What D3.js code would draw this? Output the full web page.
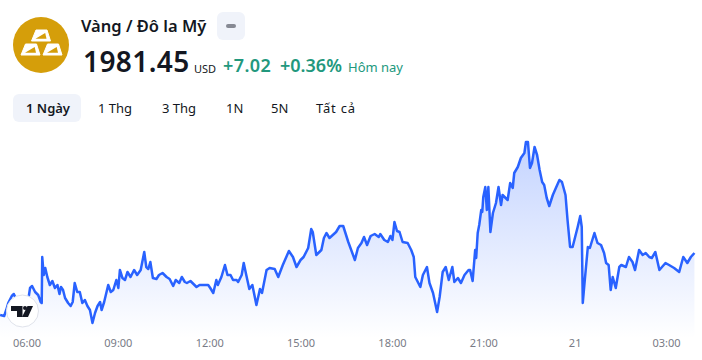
<!DOCTYPE html>
<html><head><meta charset="utf-8">
<script src="https://cdn.jsdelivr.net/npm/d3@7"></script>
<style>html,body{margin:0;padding:0;background:#fff;overflow:hidden}svg{display:block}text{font-family:"Noto Sans","Open Sans",sans-serif}</style>
</head><body><svg id="c" width="702" height="360"></svg>
<script>
const title="Vàng / Đô la Mỹ", lastPrice="1981.45", currency="USD", changeAbs="+7.02", changePct="+0.36%", changeLabel="Hôm nay";
const tabs=["1 Ngày","1 Thg","3 Thg","1N","5N","Tất cả"];
const tickMinutes=[0,180,360,540,720,900,1080,1260];
const tickLabels=["06:00","09:00","12:00","15:00","18:00","21:00","21","03:00"];
// minutes since 06:00
const minutes=[-52,-44,-40,-36,-29,-25,-13,-3,4,7,11,17,23,28,30,31,34,37,41,46,51,56,61,65,68,72,76,82,87,91,95,100,105,110,115,120,125,130,135,140,145,148,153,161,166,171,177,181,184,189,194,199,205,212,218,225,232,236,240,244,249,256,261,268,276,282,289,294,301,306,312,316,323,331,335,341,348,358,362,368,374,377,384,391,396,402,407,414,417,424,428,433,439,445,453,460,464,473,479,489,496,505,517,525,532,540,546,555,561,564,571,581,586,591,597,610,617,624,634,647,653,660,665,671,678,686,694,697,705,712,717,721,725,730,735,741,751,758,763,766,776,781,789,794,801,809,814,820,826,832,839,843,850,856,863,871,874,879,884,886,889,892,896,898,900,904,907,910,914,919,925,930,935,938,948,953,958,961,968,974,981,984,988,992,996,1001,1006,1011,1016,1020,1025,1030,1037,1043,1050,1055,1062,1066,1071,1076,1081,1086,1091,1094,1096,1100,1106,1110,1119,1125,1132,1138,1142,1147,1151,1155,1161,1168,1172,1181,1187,1194,1199,1207,1214,1220,1227,1232,1239,1247,1259,1266,1276,1286,1294,1302,1309,1316];
const prices=[1975.3,1975.2,1975.8,1976.5,1977.2,1977.4,1976.1,1975.8,1977.0,1978.0,1978.2,1977.6,1977.3,1976.6,1976.5,1981.1,1979.3,1980.0,1979.1,1978.3,1978.7,1978.0,1978.3,1977.4,1978.1,1977.8,1977.0,1976.5,1976.2,1976.6,1978.5,1977.6,1977.6,1976.5,1976.8,1976.2,1975.8,1974.5,1975.5,1976.2,1976.6,1975.8,1976.6,1978.3,1977.6,1977.8,1978.8,1978.0,1979.8,1979.0,1978.8,1979.6,1979.1,1979.8,1979.3,1979.8,1981.6,1980.1,1979.9,1980.6,1979.0,1978.9,1979.3,1979.5,1979.1,1978.9,1978.2,1978.8,1978.5,1979.1,1978.6,1978.5,1978.7,1978.3,1978.1,1978.3,1978.3,1978.3,1978.0,1977.5,1978.8,1978.3,1979.1,1980.3,1979.3,1979.3,1978.8,1978.8,1978.6,1979.3,1980.5,1979.3,1977.9,1978.3,1976.3,1977.9,1977.5,1979.8,1980.0,1979.9,1979.1,1980.3,1981.7,1981.1,1980.1,1980.8,1981.1,1982.0,1983.9,1983.6,1981.3,1981.8,1983.0,1983.5,1983.0,1983.6,1984.2,1984.2,1982.6,1980.8,1982.0,1982.5,1983.1,1982.3,1983.2,1983.4,1983.1,1983.4,1982.8,1982.6,1983.2,1982.8,1984.6,1983.7,1983.6,1982.6,1982.5,1981.8,1981.1,1979.1,1978.1,1979.3,1980.1,1978.5,1977.5,1975.6,1977.1,1979.6,1980.1,1978.8,1980.1,1978.6,1979.0,1978.5,1979.3,1979.8,1979.8,1978.7,1981.8,1981.0,1983.5,1984.3,1985.8,1985.6,1987.1,1988.1,1985.8,1988.1,1983.6,1985.5,1986.5,1988.1,1986.3,1987.3,1986.8,1988.5,1988.0,1989.5,1990.1,1991.0,1991.5,1992.6,1992.6,1990.0,1990.5,1992.1,1991.3,1989.8,1988.6,1988.3,1987.0,1986.2,1987.3,1988.0,1988.8,1988.6,1987.3,1984.8,1982.1,1982.1,1983.1,1984.1,1985.2,1984.1,1976.5,1978.8,1982.1,1982.0,1983.5,1982.5,1982.3,1981.5,1980.5,1980.3,1977.8,1979.1,1978.0,1980.1,1980.3,1980.1,1981.1,1980.6,1979.8,1981.8,1981.3,1981.5,1981.1,1981.0,1981.6,1979.8,1980.5,1980.3,1980.0,1979.6,1981.1,1980.5,1981.1,1981.5];

const svg=d3.select("#c");
const x=d3.scaleLinear().domain([0,1260]).range([26.5,666]);
const y=d3.scaleLinear().domain([1974.6,1992.8]).range([322,140]);
const pts=minutes.map((m,i)=>[m,prices[i]]);
const defs=svg.append("defs");
const g=defs.append("linearGradient").attr("id","fill").attr("x1",0).attr("x2",0)
 .attr("gradientUnits","userSpaceOnUse").attr("y1",140).attr("y2",338);
g.append("stop").attr("offset",0).attr("stop-color","#2962ff").attr("stop-opacity",.28);
g.append("stop").attr("offset",1).attr("stop-color","#2962ff").attr("stop-opacity",0);
svg.append("path").datum(pts).attr("fill","url(#fill)")
 .attr("d",d3.area().x(d=>x(d[0])).y0(338).y1(d=>y(d[1])));
svg.append("path").datum(pts).attr("fill","none").attr("stroke","#2962ff").attr("stroke-width",2.5).attr("stroke-linejoin","round")
 .attr("d",d3.line().x(d=>x(d[0])).y(d=>y(d[1])));

const axis=d3.axisBottom(x).tickValues(tickMinutes).tickFormat((d,i)=>tickLabels[i]).tickSize(0);
const ax=svg.append("g").attr("transform","translate(0,336)").call(axis);
ax.select(".domain").remove();
ax.selectAll("text").attr("fill","#787b86").attr("font-size",11).style("font-family",'"Noto Sans",sans-serif');

// TradingView badge
const b=svg.append("g").attr("transform","translate(22.5,311)");
b.append("circle").attr("r",16).attr("fill","#fff").attr("stroke","#e0e3eb");
b.append("path").attr("fill","#131722").attr("d","M-11.5,-5h11.5v11h-5.5v-6h-6z");
b.append("circle").attr("cx",2.5).attr("cy",-3).attr("r",2).attr("fill","#131722");
b.append("path").attr("fill","#131722").attr("d","M5,-5h5.5l-5,11h-6z");

// header
const ic=svg.append("g").attr("transform","translate(41,45)");
ic.append("circle").attr("r",28).attr("fill","#d59e0a");
[[0,-9.5],[-10.5,4.5],[11.5,4.5]].forEach(p=>{
  const c=ic.append("g").attr("transform",`translate(${p[0]},${p[1]})`);
  c.append("path").attr("d","M-9.5,5.5 L-5,-5.5 L6,-5.5 L9.5,5.5 Z").attr("fill","#fff").attr("stroke","#fff").attr("stroke-linejoin","round");
  c.append("path").attr("d","M-5.5,3.2 L5.5,3.2 L4.2,-2.5 Z").attr("fill","#d59e0a");
});
svg.append("text").attr("x",81).attr("y",32).attr("font-size",16.5).attr("font-weight",600).attr("fill","#131722").text(title);
svg.append("rect").attr("x",217).attr("y",12).attr("width",28).attr("height",28).attr("rx",6).attr("fill","#f0f3fa");
svg.append("rect").attr("x",226).attr("y",24).attr("width",10).attr("height",4).attr("rx",2).attr("fill","#868993");
svg.append("text").attr("x",83).attr("y",72).attr("font-size",28).attr("font-weight",600).attr("letter-spacing",.4).attr("fill","#131722").text(lastPrice);
svg.append("text").attr("x",194).attr("y",73).attr("font-size",11).attr("fill","#131722").text(currency);
svg.append("text").attr("x",223).attr("y",72).attr("font-size",18).attr("font-weight",600).attr("letter-spacing",.4).attr("fill","#22987d").text(changeAbs);
svg.append("text").attr("x",280).attr("y",72).attr("font-size",18).attr("font-weight",600).attr("fill","#22987d").text(changePct);
svg.append("text").attr("x",348).attr("y",72).attr("font-size",13).attr("fill","#22987d").text(changeLabel);
svg.append("rect").attr("x",13).attr("y",94).attr("width",68).attr("height",28).attr("rx",6).attr("fill","#f0f3fa");
const tabX=[26,98,162,226,271,316];
tabs.forEach((t,i)=>svg.append("text").attr("x",tabX[i]).attr("y",113).attr("font-size",13).attr("font-weight",i?400:600).attr("letter-spacing",i==5?.8:0).attr("fill","#131722").text(t));
</script></body></html>
